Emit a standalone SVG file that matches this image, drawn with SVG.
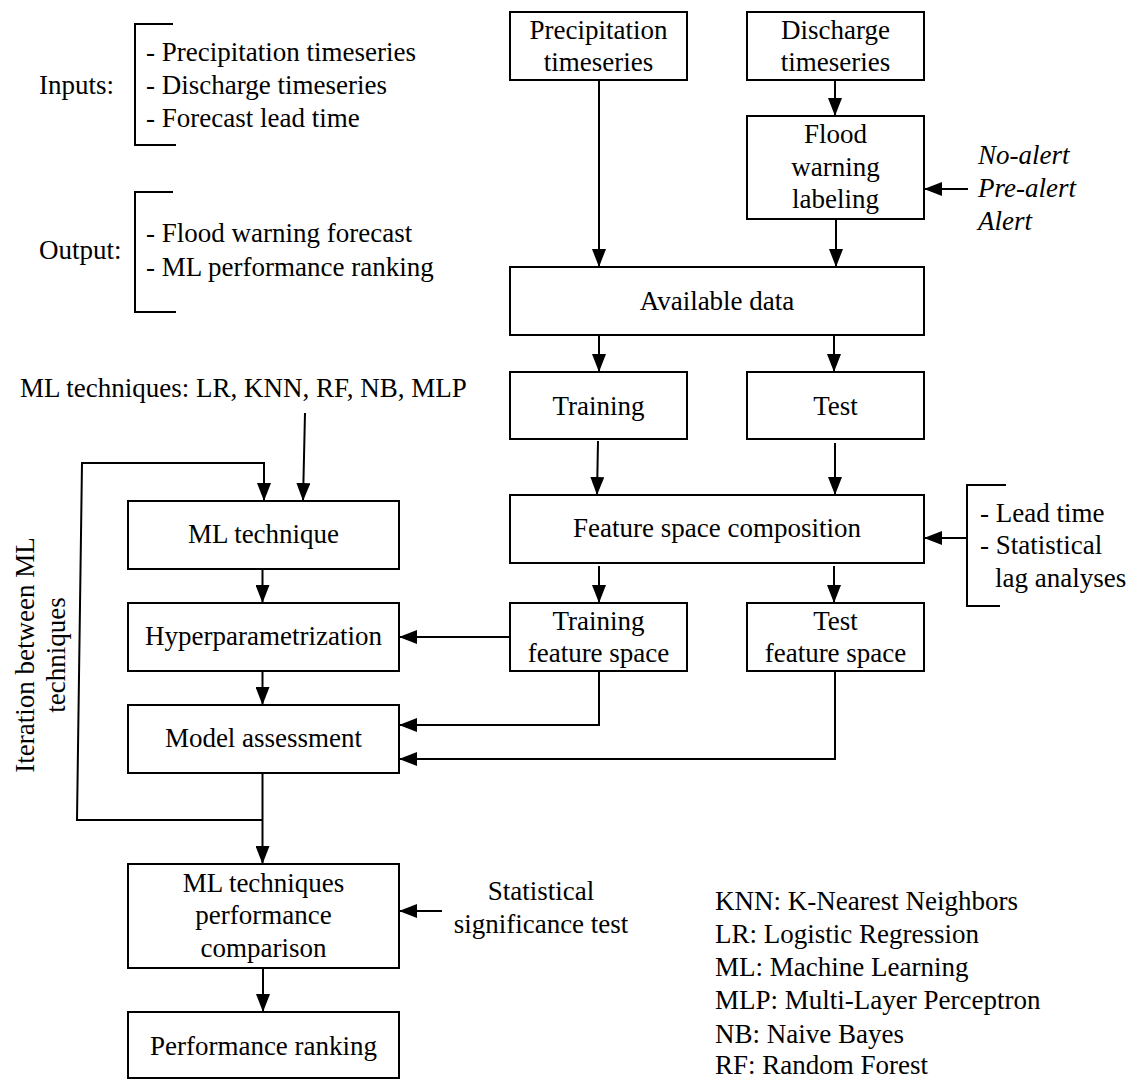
<svg xmlns="http://www.w3.org/2000/svg" width="1133" height="1080" viewBox="0 0 1133 1080">
<style>
text{font-family:"Liberation Serif","Times New Roman",serif;font-size:27px;fill:#000}
.c{text-anchor:middle}
.i{font-style:italic}
rect{fill:#fff;stroke:#000;stroke-width:2}
.ln{fill:none;stroke:#000;stroke-width:2}
.ar{fill:none;stroke:#000;stroke-width:2;marker-end:url(#ah)}
</style>
<defs>
<marker id="ah" markerUnits="userSpaceOnUse" markerWidth="18" markerHeight="14" refX="18" refY="7" orient="auto">
<path d="M0,0 L18,7 L0,14 z" fill="#000"/>
</marker>
</defs>
<rect width="1133" height="1080" style="fill:#fff;stroke:none"/>

<g id="inputs">
<text x="39" y="94">Inputs:</text>
<path class="ln" d="M173,24 H135 V145 H176"/>
<text x="146" y="61">- Precipitation timeseries</text>
<text x="146" y="94">- Discharge timeseries</text>
<text x="146" y="127">- Forecast lead time</text>
</g>
<g id="output">
<text x="39" y="259">Output:</text>
<path class="ln" d="M173,192 H135 V312 H176"/>
<text x="146" y="242">- Flood warning forecast</text>
<text x="146" y="276">- ML performance ranking</text>
</g>

<g id="precip"><rect x="510" y="12" width="177" height="68"/><text class="c" x="598.5" y="39">Precipitation</text><text class="c" x="598.5" y="71">timeseries</text></g>
<g id="discharge"><rect x="747" y="12" width="177" height="68"/><text class="c" x="835.5" y="39">Discharge</text><text class="c" x="835.5" y="71">timeseries</text></g>
<g id="flood"><rect x="747" y="116" width="177" height="103"/><text class="c" x="835.5" y="143">Flood</text><text class="c" x="835.5" y="176">warning</text><text class="c" x="835.5" y="208">labeling</text></g>
<g id="alerts"><text class="i" x="978" y="164">No-alert</text><text class="i" x="978" y="197">Pre-alert</text><text class="i" x="978" y="230">Alert</text></g>
<g id="available"><rect x="510" y="267" width="414" height="68"/><text class="c" x="717" y="310">Available data</text></g>
<g id="training"><rect x="510" y="372" width="177" height="67"/><text class="c" x="598.5" y="415">Training</text></g>
<g id="test"><rect x="747" y="372" width="177" height="67"/><text class="c" x="835.5" y="415">Test</text></g>
<g id="fsc"><rect x="510" y="495" width="414" height="68"/><text class="c" x="717" y="537">Feature space composition</text></g>
<g id="leadlag">
<path class="ln" d="M1006,485 H967 V606 H1000"/>
<text x="980" y="522">- Lead time</text>
<text x="980" y="554">- Statistical</text>
<text x="995" y="587">lag analyses</text>
</g>
<g id="tfs"><rect x="510" y="603" width="177" height="68"/><text class="c" x="598.5" y="630">Training</text><text class="c" x="598.5" y="662">feature space</text></g>
<g id="testfs"><rect x="747" y="603" width="177" height="68"/><text class="c" x="835.5" y="630">Test</text><text class="c" x="835.5" y="662">feature space</text></g>

<g id="mltech-label"><text x="20" y="397">ML techniques: LR, KNN, RF, NB, MLP</text></g>
<g id="mltech"><rect x="128" y="501" width="271" height="68"/><text class="c" x="263.5" y="543">ML technique</text></g>
<g id="hyper"><rect x="128" y="603" width="271" height="68"/><text class="c" x="263.5" y="645">Hyperparametrization</text></g>
<g id="assess"><rect x="128" y="705" width="271" height="68"/><text class="c" x="263.5" y="747">Model assessment</text></g>
<g id="iteration">
<text class="c" transform="translate(34,655) rotate(-90)">Iteration between ML</text>
<text class="c" transform="translate(65,655) rotate(-90)">techniques</text>
</g>
<g id="compare"><rect x="128" y="864" width="271" height="104"/><text class="c" x="263.5" y="892">ML techniques</text><text class="c" x="263.5" y="924">performance</text><text class="c" x="263.5" y="957">comparison</text></g>
<g id="stat"><text class="c" x="541" y="900">Statistical</text><text class="c" x="541" y="933">significance test</text></g>
<g id="ranking"><rect x="128" y="1012" width="271" height="66"/><text class="c" x="263.5" y="1055">Performance ranking</text></g>
<g id="legend">
<text x="715" y="910">KNN: K-Nearest Neighbors</text>
<text x="715" y="943">LR: Logistic Regression</text>
<text x="715" y="976">ML: Machine Learning</text>
<text x="715" y="1009">MLP: Multi-Layer Perceptron</text>
<text x="715" y="1043">NB: Naive Bayes</text>
<text x="715" y="1074">RF: Random Forest</text>
</g>

<g id="connectors">
<path class="ar" d="M599,80 V267"/>
<path class="ar" d="M835,80 V116"/>
<path class="ar" d="M836,219 V267"/>
<path class="ar" d="M968,189 H924"/>
<path class="ar" d="M599,335 V372"/>
<path class="ar" d="M834,335 V372"/>
<path class="ar" d="M598,441 L597,495"/>
<path class="ar" d="M835,443 V495"/>
<path class="ar" d="M967,538 H924"/>
<path class="ar" d="M599,566 V603"/>
<path class="ar" d="M834,566 V603"/>
<path class="ar" d="M510,637 H399"/>
<path class="ar" d="M599,671 V725 H399"/>
<path class="ar" d="M835,671 V759 H399"/>
<path class="ar" d="M305,413 L303,501"/>
<path class="ar" d="M262.5,569 V603"/>
<path class="ar" d="M262.5,671 V705"/>
<path class="ar" d="M262.5,773 V864"/>
<path class="ar" d="M262.5,820 H77 L82,463 H264 V501"/>
<path class="ar" d="M263,968 V1012"/>
<path class="ar" d="M442,911 H399"/>
</g>
</svg>
